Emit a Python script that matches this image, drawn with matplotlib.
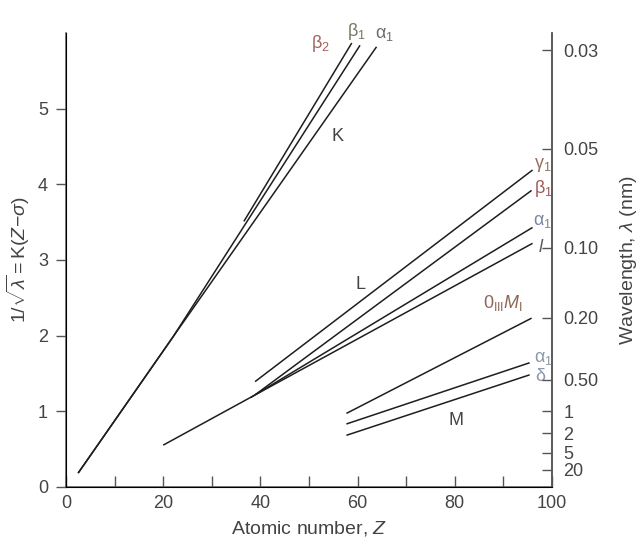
import numpy as np
import matplotlib
matplotlib.use("Agg")
import matplotlib.pyplot as plt

plt.rcParams['font.family'] = 'Liberation Sans'
plt.rcParams['mathtext.fontset'] = 'custom'
plt.rcParams['mathtext.rm'] = 'Liberation Sans'
plt.rcParams['mathtext.it'] = 'Liberation Sans:italic'

# K series: (Z, 1/sqrt(lambda)) points, sharing one segment at low Z
k_alpha1_z = [2.5, 22.0, 63.9]
k_alpha1_y = [0.18, 1.98, 5.82]
k_beta1_z = [2.5, 22.0, 60.5]
k_beta1_y = [0.18, 1.98, 5.84]
k_beta2_z = [36.6, 58.8]
k_beta2_y = [3.51, 5.87]

# L series
l_l_z = [20.0, 96.0]
l_l_y = [0.55, 3.22]
l_alpha1_z = [38.0, 96.0]
l_alpha1_y = [1.18, 3.43]
l_beta1_z = [39.0, 95.8]
l_beta1_y = [1.22, 3.92]
l_gamma1_z = [38.9, 96.0]
l_gamma1_y = [1.39, 4.19]

# M series
m_o3m1_z = [57.7, 95.8]
m_o3m1_y = [0.97, 2.23]
m_alpha1_z = [57.7, 95.4]
m_alpha1_y = [0.83, 1.64]
m_delta_z = [57.7, 95.4]
m_delta_y = [0.68, 1.48]

# wavelength scale on the right (nm)
wavelengths = [0.03, 0.05, 0.10, 0.20, 0.50, 1, 2, 5, 20]
wavelength_labels = ['0.03', '0.05', '0.10', '0.20', '0.50', '1', '2', '5', '20']

fig = plt.figure(figsize=(6.43, 5.44), dpi=100)
ax = fig.add_axes([0.1026, 0.1053, 0.7559, 0.8337])

line_kw = dict(color='#1e1e1e', lw=1.1, solid_capstyle='butt')
series = [
    (k_alpha1_z, k_alpha1_y), (k_beta1_z, k_beta1_y), (k_beta2_z, k_beta2_y),
    (l_l_z, l_l_y), (l_alpha1_z, l_alpha1_y), (l_beta1_z, l_beta1_y),
    (l_gamma1_z, l_gamma1_y),
    (m_o3m1_z, m_o3m1_y), (m_alpha1_z, m_alpha1_y), (m_delta_z, m_delta_y),
]
for z, y in series:
    ax.plot(z, y, **line_kw)

ax.set_xlim(0, 100)
ax.set_ylim(0, 6.0)
ax.set_xticks(np.arange(0, 101, 20))
ax.set_xticks(np.arange(10, 100, 20), minor=True)
ax.set_yticks(np.arange(0, 6, 1))

spine_col = '#555555'
text_col = '#444444'
for s in ['left', 'bottom', 'right']:
    ax.spines[s].set_color(spine_col)
    ax.spines[s].set_linewidth(1.1)
ax.spines['top'].set_visible(False)

ax.tick_params(axis='x', which='both', direction='in', length=8, width=1.0,
               color=spine_col, labelsize=13, labelcolor=text_col, pad=6)
ax.tick_params(axis='y', direction='out', length=7, width=1.0,
               color=spine_col, labelsize=13, labelcolor=text_col, pad=6)

ax.set_xlabel('Atomic number, $Z$', fontsize=14, color=text_col, labelpad=5)
ax.set_ylabel(r'$1/\sqrt{\lambda} = \mathrm{K}(Z\!-\!\sigma)$', fontsize=14,
              color=text_col, labelpad=4)

ax2 = ax.twinx()
ax2.set_ylim(ax.get_ylim())
ax2.set_yticks(1 / np.sqrt(np.array(wavelengths)))
ax2.set_yticklabels(wavelength_labels)
ax2.spines['top'].set_visible(False)
ax2.spines['right'].set_color(spine_col)
ax2.spines['right'].set_linewidth(1.1)
ax2.tick_params(axis='y', direction='in', length=7, width=1.0, color=spine_col,
                labelsize=13, labelcolor=text_col, pad=8)
ax2.set_ylabel(r'Wavelength, $\lambda$ (nm)', fontsize=14, color=text_col,
               labelpad=14)

lab = dict(fontsize=13, ha='center', va='center', clip_on=False)
# K labels
ax.text(52.3, 5.87, r'$\mathrm{\beta_2}$', color='#a0625c', **lab)
ax.text(59.8, 6.02, r'$\mathrm{\beta_1}$', color='#6f7a62', **lab)
ax.text(65.6, 5.98, r'$\mathrm{\alpha_1}$', color='#6e6e6e', **lab)
ax.text(55.9, 4.63, 'K', color=text_col, **lab)
# L labels
ax.text(98.2, 4.26, r'$\mathrm{\gamma_1}$', color='#94705f', **lab)
ax.text(98.2, 3.95, r'$\mathrm{\beta_1}$', color='#a05656', **lab)
ax.text(98.0, 3.51, r'$\mathrm{\alpha_1}$', color='#7a86a0', **lab)
ax.text(97.7, 3.17, r'$l$', color='#5a5a5a', **lab)
ax.text(60.5, 2.67, 'L', color=text_col, **lab)
# M labels
ax.text(89.9, 2.43, r'$\mathrm{0}_{\mathrm{III}}M_{\mathrm{I}}$', color='#8e6656', **lab)
ax.text(98.2, 1.70, r'$\mathrm{\alpha_1}$', color='#8a98a8', **lab)
ax.text(97.7, 1.46, r'$\mathrm{\delta}$', color='#8a98a8', **lab)
ax.text(80.3, 0.88, 'M', color=text_col, **lab)

fig.savefig('out.png', dpi=100)
